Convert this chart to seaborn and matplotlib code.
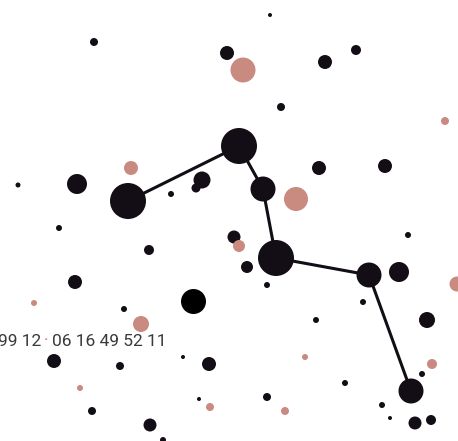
import pandas as pd
import matplotlib
matplotlib.use("Agg")
import matplotlib.pyplot as plt
import seaborn as sns

# star field: x, y in picture units, apparent diameter, kind
star_x = [94, 227, 18, 77, 128, 171, 202, 196, 239, 270, 325, 356, 281, 319, 385, 263,
          59, 149, 75, 124, 193, 54, 120, 183, 209, 199, 92, 150, 163,
          234, 247, 276, 267, 369, 399, 408, 363, 316, 427, 422, 345, 411, 267, 382, 390, 415, 431,
          131, 243, 445, 296, 34, 141, 80, 210, 239, 457, 305, 432, 285]
star_y = [42, 53, 185, 184, 201, 194, 180, 188, 146, 15, 62, 50, 107, 168, 166, 189,
          228, 250, 282, 309, 301, 361, 366, 357, 364, 399, 411, 425, 440,
          237, 267, 258, 285, 275, 272, 235, 302, 320, 320, 374, 383, 391, 397, 405, 418, 423, 420,
          168, 70, 121, 199, 303, 324, 388, 407, 246, 284, 357, 364, 411]
star_d = [8, 14, 5, 20, 36, 6, 17, 9, 36, 4, 14, 10, 8, 14, 14, 25,
          6, 10, 14, 6, 25, 14, 8, 4, 14, 4, 8, 13, 6,
          13, 12, 36, 6, 25, 20, 6, 6, 6, 16, 6, 6, 25, 8, 6, 4, 13, 10,
          14, 25, 8, 24, 6, 16, 6, 8, 12, 15, 6, 10, 8]
star_kind = (["dark"] * 20 + ["black"] + ["dark"] * 26 + ["rose"] * 13)

# constellation path
line_x = [128, 239, 263, 276, 369, 411]
line_y = [201, 146, 189, 258, 275, 391]

label_parts = ["99 12", "·", "06 16 49 52 11"]

W, H = 458, 441
dpi = 100

stars = pd.DataFrame({"x": star_x, "y": star_y, "d": star_d, "kind": star_kind})
stars["s"] = (stars["d"] * 72 / dpi) ** 2

sns.set_theme(style="white")
plt.rcParams["font.family"] = ["Roboto", "DejaVu Sans"]

fig = plt.figure(figsize=(W / dpi, H / dpi), dpi=dpi)
ax = fig.add_axes([0, 0, 1, 1])
ax.set_xlim(0, W)
ax.set_ylim(H, 0)
ax.set_axis_off()

sns.lineplot(x=line_x, y=line_y, sort=False, color="#130e15", linewidth=2.2,
             ax=ax, zorder=1)

palette = {"dark": "#130e15", "black": "#000000", "rose": "#c98a80"}
for kind, grp in stars.groupby("kind"):
    ax.scatter(grp["x"], grp["y"], s=grp["s"], color=palette[kind],
               linewidths=0, zorder=2)

# label, built right to left so the pink dot sits between the groups
r = fig.canvas.get_renderer()
ty = 341.5
t3 = ax.text(166, ty, label_parts[2], ha="right", va="center", fontsize=12.5,
             color="#3a3a3a")
x0 = t3.get_window_extent(r).x0
t2 = ax.text(x0 - 3, ty - 1, label_parts[1], ha="right", va="center", fontsize=11,
             color="#c98a80", fontweight="bold", zorder=3)
x1 = t2.get_window_extent(r).x0
ax.text(x1 - 3, ty, label_parts[0], ha="right", va="center", fontsize=12.5,
        color="#3a3a3a")

fig.savefig("out.png", dpi=dpi)
